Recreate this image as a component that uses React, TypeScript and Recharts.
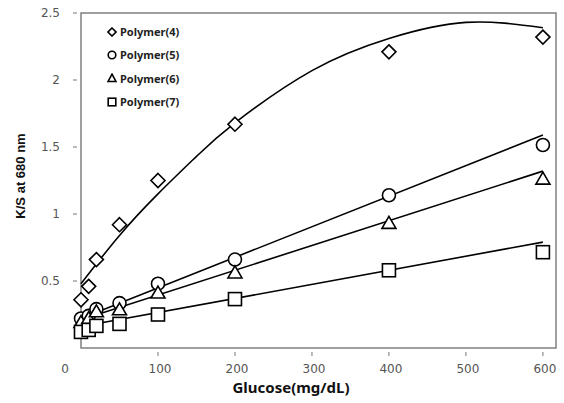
import { ComposedChart, Scatter, Line, XAxis, YAxis, ReferenceArea } from 'recharts';

const xTicks = [0, 100, 200, 300, 400, 500, 600];
const yTicks = [0, 0.5, 1, 1.5, 2, 2.5];

const glucose = [0, 10, 20, 50, 100, 200, 400, 600];
const polymer4 = [0.36, 0.46, 0.66, 0.92, 1.25, 1.67, 2.21, 2.32];
const polymer5 = [0.22, 0.24, 0.29, 0.335, 0.48, 0.66, 1.14, 1.515];
const polymer6 = [0.19, 0.22, 0.27, 0.285, 0.41, 0.56, 0.93, 1.26];
const polymer7 = [0.12, 0.135, 0.165, 0.18, 0.25, 0.365, 0.58, 0.715];

// trend lines
const fit4X = [0, 50, 100, 150, 200, 300, 400, 500, 600];
const fit4Y = [0.48, 0.84, 1.15, 1.43, 1.68, 2.07, 2.31, 2.43, 2.39];
const fitLinX = [0, 600];
const fit5Y = [0.22, 1.59];
const fit6Y = [0.21, 1.32];
const fit7Y = [0.16, 0.79];

const toPts = (xs: number[], ys: number[]) => xs.map((x, i) => ({ x, y: ys[i] }));

const diamond = (p: any) => {
  const { cx, cy } = p;
  const r = 7;
  return <path d={`M${cx},${cy - r}L${cx + r},${cy}L${cx},${cy + r}L${cx - r},${cy}Z`} fill="#fff" stroke="#000" strokeWidth={1.6} />;
};
const circle = (p: any) => <circle cx={p.cx} cy={p.cy} r={6.5} fill="#fff" stroke="#000" strokeWidth={1.6} />;
const triangle = (p: any) => {
  const { cx, cy } = p;
  return <path d={`M${cx},${cy - 7}L${cx + 7},${cy + 5}L${cx - 7},${cy + 5}Z`} fill="#fff" stroke="#000" strokeWidth={1.6} />;
};
const square = (p: any) => <rect x={p.cx - 6.5} y={p.cy - 6.5} width={13} height={13} fill="#fff" stroke="#000" strokeWidth={1.6} />;

const legendItems = [
  { name: 'Polymer(4)', kind: 'diamond' },
  { name: 'Polymer(5)', kind: 'circle' },
  { name: 'Polymer(6)', kind: 'triangle' },
  { name: 'Polymer(7)', kind: 'square' },
];

function LegendMark({ kind }: { kind: string }) {
  const s = { fill: 'none', stroke: '#000', strokeWidth: 1.6 };
  if (kind === 'diamond') return <path d="M5,1L9,5L5,9L1,5Z" {...s} />;
  if (kind === 'circle') return <circle cx={5} cy={5} r={3.8} {...s} />;
  if (kind === 'triangle') return <path d="M5,1.2L9,8.5L1,8.5Z" {...s} />;
  return <rect x={1.2} y={1.2} width={7.6} height={7.6} {...s} />;
}

function MyLegend() {
  return (
    <div
      style={{
        position: 'absolute',
        left: 107,
        top: 20,
        fontFamily: '"Noto Sans", sans-serif',
        fontWeight: 700,
        fontSize: 11,
        color: '#222',
        lineHeight: 1,
      }}
    >
      {legendItems.map((it) => (
        <div key={it.name} style={{ display: 'flex', alignItems: 'center', height: 23.3 }}>
          <svg width={10} height={10} style={{ marginRight: 3 }}>
            <LegendMark kind={it.kind} />
          </svg>
          <span>{it.name}</span>
        </div>
      ))}
    </div>
  );
}

const XTick = (p: any) => {
  const { x, y, payload } = p;
  const dx = payload.value === 0 ? -16 : 2;
  return (
    <g>
      {payload.value !== 0 && <line x1={x} x2={x} y1={y} y2={y - 4} stroke="#777" />}
      <text x={x + dx} y={y + 17} textAnchor="middle" fill="#555" fontSize={12} fontFamily="DejaVu Sans">
        {payload.value}
      </text>
    </g>
  );
};

const YTick = (p: any) => {
  const { x, y, payload } = p;
  if (payload.value === 0) return <g />;
  return (
    <g>
      <line x1={x} x2={x + 4} y1={y} y2={y} stroke="#777" />
      <text x={x - 13} y={y + 4} textAnchor="end" fill="#555" fontSize={12} fontFamily="DejaVu Sans">
        {payload.value}
      </text>
    </g>
  );
};

export default function App() {
  return (
    <div style={{ position: 'absolute', left: 0, top: 0, width: 564, height: 403, background: '#fff' }}>
      <ComposedChart width={564} height={403} margin={{ top: 13, right: 8, bottom: 25, left: 21 }}>
        <XAxis
          type="number"
          dataKey="x"
          domain={[0, 617]}
          ticks={xTicks}
          axisLine={false}
          tickLine={false}
          tick={<XTick />}
          height={30}
          label={{
            content: () => (
              <text x={291} y={393} textAnchor="middle" fontSize={15} fontWeight={700} fill="#111" fontFamily='"Noto Sans", sans-serif'>
                Glucose(mg/dL)
              </text>
            ),
          }}
        />
        <YAxis
          type="number"
          dataKey="y"
          domain={[0, 2.5]}
          ticks={yTicks}
          axisLine={false}
          tickLine={false}
          tick={<YTick />}
          width={60}
          label={{
            content: () => (
              <text x={25} y={176} transform="rotate(-90 25 176)" textAnchor="middle" fontSize={13} fontWeight={700} fill="#111" fontFamily='"Liberation Sans", sans-serif'>
                K/S at 680 nm
              </text>
            ),
          }}
        />
        <ReferenceArea x1={0} x2={617} y1={0} y2={2.5} fill="none" stroke="#808080" strokeWidth={1.5} ifOverflow="visible" />
        <Scatter data={toPts(glucose, polymer4)} shape={diamond} isAnimationActive={false} />
        <Scatter data={toPts(glucose, polymer5)} shape={circle} isAnimationActive={false} />
        <Scatter data={toPts(glucose, polymer6)} shape={triangle} isAnimationActive={false} />
        <Scatter data={toPts(glucose, polymer7)} shape={square} isAnimationActive={false} />
        <Line data={toPts(fit4X, fit4Y)} dataKey="y" type="natural" stroke="#000" strokeWidth={1.6} dot={false} isAnimationActive={false} />
        <Line data={toPts(fitLinX, fit5Y)} dataKey="y" type="linear" stroke="#000" strokeWidth={1.6} dot={false} isAnimationActive={false} />
        <Line data={toPts(fitLinX, fit6Y)} dataKey="y" type="linear" stroke="#000" strokeWidth={1.6} dot={false} isAnimationActive={false} />
        <Line data={toPts(fitLinX, fit7Y)} dataKey="y" type="linear" stroke="#000" strokeWidth={1.6} dot={false} isAnimationActive={false} />
      </ComposedChart>
      <MyLegend />
    </div>
  );
}
